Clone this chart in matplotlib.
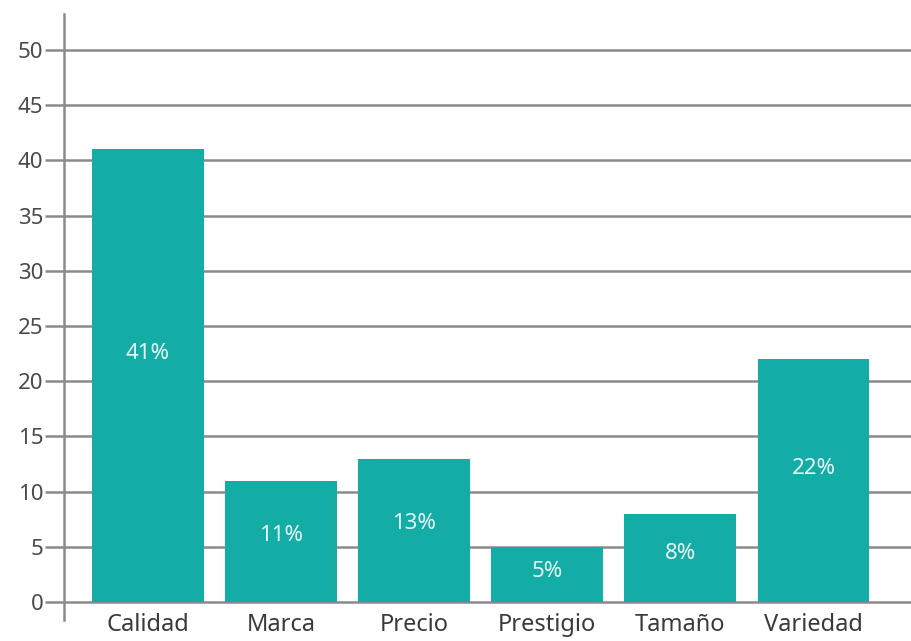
import matplotlib
matplotlib.use("Agg")
import matplotlib.pyplot as plt

categorias = ['Calidad', 'Marca', 'Precio', 'Prestigio', 'Tamaño', 'Variedad']
porcentajes = [41, 11, 13, 5, 8, 22]
etiquetas = ['41%', '11%', '13%', '5%', '8%', '22%']

plt.rcParams['font.family'] = ['Noto Sans', 'DejaVu Sans']

fig = plt.figure(figsize=(9.12, 6.41), dpi=100)
ax = fig.add_axes([0.0702, 0.0332, 0.9298, 0.9456])

x = range(len(categorias))
barras = ax.bar(x, porcentajes, width=0.84, color='#14ada6', zorder=3)

ax.set_xlim(-0.63, 5.74)
ax.set_ylim(-1.6, 53.3)
ax.set_yticks(range(0, 51, 5))
ax.set_xticks([])

ax.grid(axis='y', color='#8a8a8a', linewidth=1.8, zorder=1)
ax.tick_params(axis='y', length=14, width=1.8, color='#8a8a8a', pad=1,
               labelsize=16, labelcolor='#4a4a4a')
for lado in ['top', 'right', 'bottom']:
    ax.spines[lado].set_visible(False)
ax.spines['left'].set_color('#8a8a8a')
ax.spines['left'].set_linewidth(1.8)

for i, (barra, txt) in enumerate(zip(barras, etiquetas)):
    h = barra.get_height()
    ax.text(i, h * 0.55, txt, ha='center', va='center', color='#e6f7f6',
            fontsize=16, zorder=4)
    ax.text(i, -1.0, categorias[i], ha='center', va='top', color='#3a3a3a',
            fontsize=17, clip_on=False)

fig.savefig('out.png', dpi=100)
